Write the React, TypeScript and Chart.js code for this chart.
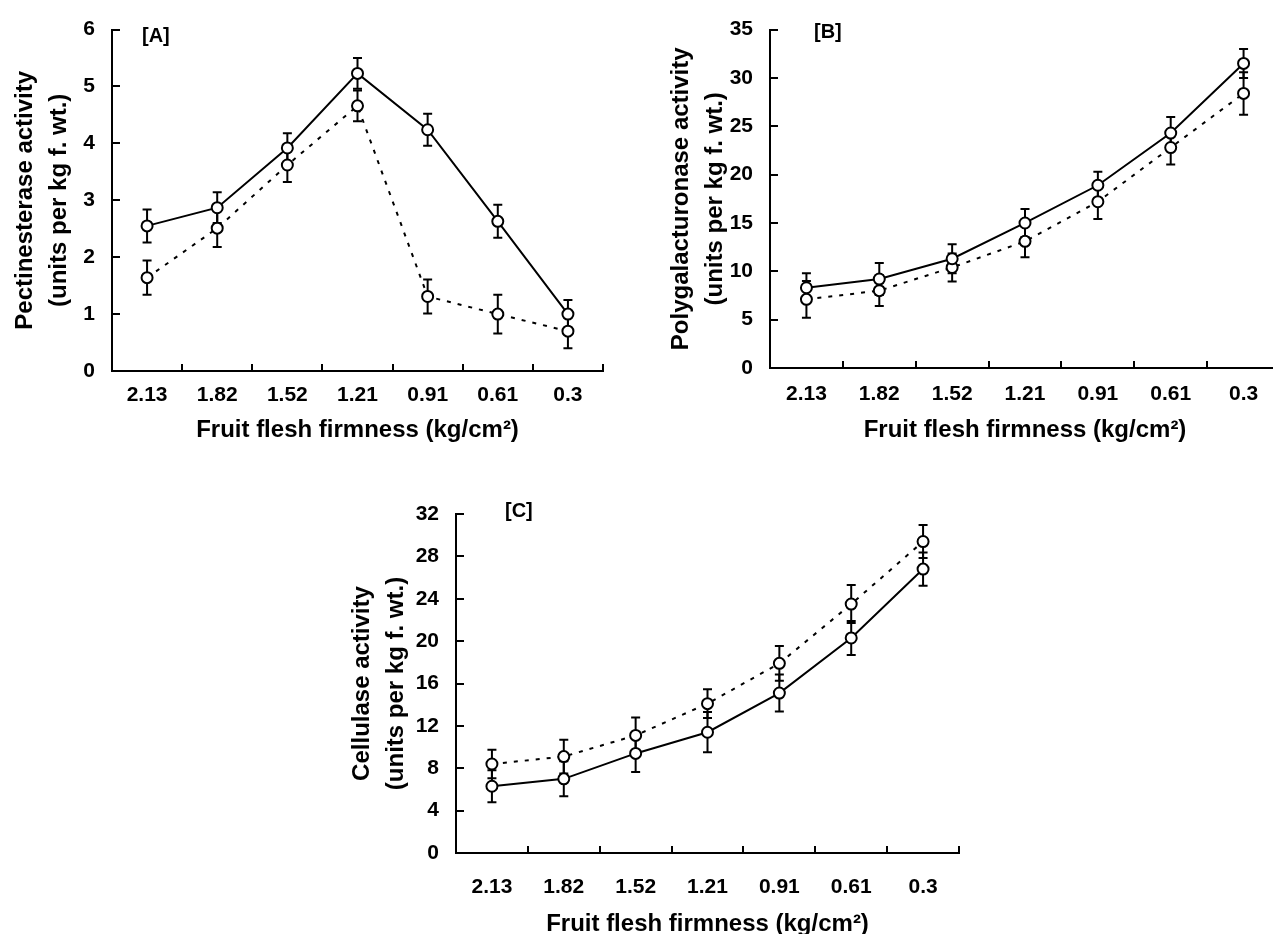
import React, { useEffect, useRef } from 'react';
import { Chart, registerables } from 'chart.js';

Chart.register(...registerables);

const categories = ['2.13', '1.82', '1.52', '1.21', '0.91', '0.61', '0.3'];

// Panel A – Pectinesterase
const peSolid = [2.55, 2.87, 3.92, 5.23, 4.24, 2.63, 1.0];
const peSolidErr = [0.29, 0.27, 0.26, 0.27, 0.28, 0.29, 0.25];
const peDashed = [1.64, 2.51, 3.62, 4.66, 1.31, 1.0, 0.7];
const peDashedErr = [0.3, 0.33, 0.3, 0.27, 0.3, 0.34, 0.3];

// Panel B – Polygalacturonase
const pgSolid = [8.3, 9.2, 11.3, 15.0, 18.9, 24.3, 31.5];
const pgSolidErr = [1.5, 1.65, 1.5, 1.45, 1.4, 1.65, 1.5];
const pgDashed = [7.1, 8.0, 10.4, 13.1, 17.2, 22.8, 28.4];
const pgDashedErr = [1.9, 1.6, 1.45, 1.65, 1.8, 1.75, 2.2];

// Panel C – Cellulase
const ceSolid = [6.3, 7.0, 9.4, 11.4, 15.1, 20.3, 26.8];
const ceSolidErr = [1.5, 1.65, 1.75, 1.9, 1.75, 1.6, 1.57];
const ceDashed = [8.4, 9.1, 11.1, 14.1, 17.9, 23.5, 29.4];
const ceDashedErr = [1.35, 1.6, 1.7, 1.35, 1.65, 1.8, 1.55];

const xTitle = 'Fruit flesh firmness (kg/cm²)';
const yTitleA = ['Pectinesterase activity', '(units per kg f. wt.)'];
const yTitleB = ['Polygalacturonase activity', '(units per kg f. wt.)'];
const yTitleC = ['Cellulase activity', '(units per kg f. wt.)'];

const FONT = '"Liberation Sans", Arial, Helvetica, sans-serif';

type Series = { data: number[]; err: number[]; dashed: boolean };
type Panel = {
  label: string;
  canvas: { left: number; top: number; width: number; height: number };
  area: { left: number; top: number; right: number; bottom: number };
  yMax: number;
  yStep: number;
  yTitle: string[];
  yTitlePad: number;
  xTickPad: number;
  xTitlePad: number;
  labelDx: number;
  labelDy: number;
  series: Series[];
};

const panels: Panel[] = [
  {
    label: '[A]',
    canvas: { left: 0, top: 0, width: 640, height: 460 },
    area: { left: 112, top: 25, right: 603, bottom: 371 },
    yMax: 6, yStep: 1, yTitle: yTitleA, yTitlePad: 8,
    xTickPad: 12, xTitlePad: 15.6, labelDx: 30, labelDy: 7,
    series: [
      { data: peSolid, err: peSolidErr, dashed: false },
      { data: peDashed, err: peDashedErr, dashed: true },
    ],
  },
  {
    label: '[B]',
    canvas: { left: 640, top: 0, width: 660, height: 460 },
    area: { left: 770, top: 24, right: 1280, bottom: 368 },
    yMax: 35, yStep: 5, yTitle: yTitleB, yTitlePad: 24,
    xTickPad: 14, xTitlePad: 15.6, labelDx: 44, labelDy: 3,
    series: [
      { data: pgSolid, err: pgSolidErr, dashed: false },
      { data: pgDashed, err: pgDashedErr, dashed: true },
    ],
  },
  {
    label: '[C]',
    canvas: { left: 300, top: 460, width: 700, height: 500 },
    area: { left: 456, top: 514, right: 959, bottom: 853 },
    yMax: 32, yStep: 4, yTitle: yTitleC, yTitlePad: 45,
    xTickPad: 22, xTitlePad: 21.6, labelDx: 49, labelDy: -3,
    series: [
      { data: ceSolid, err: ceSolidErr, dashed: false },
      { data: ceDashed, err: ceDashedErr, dashed: true },
    ],
  },
];

const errorBarsPlugin = {
  id: 'errorBars',
  beforeDatasetsDraw(chart: any) {
    const ctx = chart.ctx;
    const ys = chart.scales.y;
    ctx.save();
    ctx.strokeStyle = '#000';
    ctx.lineWidth = 2;
    ctx.setLineDash([]);
    chart.data.datasets.forEach((ds: any, di: number) => {
      const meta = chart.getDatasetMeta(di);
      meta.data.forEach((pt: any, i: number) => {
        const v = ds.data[i];
        const e = ds.err[i];
        const top = ys.getPixelForValue(v + e);
        const bot = ys.getPixelForValue(v - e);
        ctx.beginPath();
        ctx.moveTo(pt.x, top);
        ctx.lineTo(pt.x, bot);
        ctx.moveTo(pt.x - 4.5, top);
        ctx.lineTo(pt.x + 4.5, top);
        ctx.moveTo(pt.x - 4.5, bot);
        ctx.lineTo(pt.x + 4.5, bot);
        ctx.stroke();
      });
    });
    ctx.restore();
  },
};

const axisTicksPlugin = {
  id: 'axisTicks',
  afterDraw(chart: any) {
    const ctx = chart.ctx;
    const xs = chart.scales.x;
    const ys = chart.scales.y;
    const area = chart.chartArea;
    ctx.save();
    ctx.strokeStyle = '#000';
    ctx.lineWidth = 2;
    ctx.beginPath();
    ys.ticks.forEach((t: any) => {
      const y = Math.round(ys.getPixelForValue(t.value));
      ctx.moveTo(area.left, y);
      ctx.lineTo(area.left + 8, y);
    });
    const n = xs.ticks.length;
    const w = (area.right - area.left) / n;
    for (let k = 1; k <= n; k++) {
      const x = Math.round(area.left + k * w);
      ctx.moveTo(x, area.bottom);
      ctx.lineTo(x, area.bottom - 7);
    }
    ctx.stroke();
    ctx.restore();
  },
};

const panelLabelPlugin = {
  id: 'panelLabel',
  afterDraw(chart: any, _args: any, opts: any) {
    const ctx = chart.ctx;
    const area = chart.chartArea;
    ctx.save();
    ctx.fillStyle = '#000';
    ctx.font = `bold 20px ${FONT}`;
    ctx.textBaseline = 'middle';
    ctx.textAlign = 'left';
    ctx.fillText(opts.text, area.left + opts.dx, area.top + opts.dy);
    ctx.restore();
  },
};

function PanelChart({ p }: { p: Panel }) {
  const ref = useRef<HTMLCanvasElement | null>(null);
  useEffect(() => {
    if (!ref.current) return;
    const xScaleHeight = p.canvas.top + p.canvas.height - p.area.bottom;
    const yScaleWidth = p.area.left - p.canvas.left;
    const chart = new Chart(ref.current, {
      type: 'line',
      data: {
        labels: categories,
        datasets: p.series.map((s) => ({
          data: s.data,
          err: s.err,
          borderColor: '#000',
          borderWidth: 2,
          borderDash: s.dashed ? [4, 7] : [],
          pointRadius: 5.5,
          pointBorderWidth: 2,
          pointBackgroundColor: '#fff',
          pointBorderColor: '#000',
          fill: false,
          tension: 0,
        })) as any,
      },
      options: {
        animation: false,
        responsive: false,
        maintainAspectRatio: false,
        layout: {
          padding: {
            left: 0,
            top: p.area.top - p.canvas.top,
            right: p.canvas.left + p.canvas.width - p.area.right,
            bottom: 0,
          },
        },
        plugins: {
          legend: { display: false },
          tooltip: { enabled: false },
          panelLabel: { text: p.label, dx: p.labelDx, dy: p.labelDy },
        } as any,
        scales: {
          x: {
            type: 'category',
            offset: true,
            grid: { display: true, offset: true, drawOnChartArea: false, drawTicks: false, color: 'rgba(0,0,0,0)' },
            border: { display: true, color: '#000', width: 2 },
            ticks: {
              color: '#000',
              font: { family: FONT, size: 21, weight: 'bold' },
              padding: p.xTickPad,
              maxRotation: 0,
              autoSkip: false,
            },
            title: {
              display: true,
              text: xTitle,
              color: '#000',
              font: { family: FONT, size: 24, weight: 'bold' },
              padding: { top: 0, bottom: p.xTitlePad },
            },
            afterFit: (s: any) => {
              s.height = xScaleHeight;
            },
          },
          y: {
            min: 0,
            max: p.yMax,
            grid: { display: true, drawOnChartArea: false, drawTicks: false, color: 'rgba(0,0,0,0)' },
            border: { display: true, color: '#000', width: 2 },
            ticks: {
              stepSize: p.yStep,
              color: '#000',
              font: { family: FONT, size: 21, weight: 'bold' },
              padding: 17,
            },
            title: {
              display: true,
              text: p.yTitle,
              color: '#000',
              font: { family: FONT, size: 24, weight: 'bold', lineHeight: '34px' },
              padding: { top: p.yTitlePad, bottom: 0 },
            },
            afterFit: (s: any) => {
              s.width = yScaleWidth;
            },
          },
        },
      } as any,
      plugins: [errorBarsPlugin, axisTicksPlugin, panelLabelPlugin],
    });
    return () => chart.destroy();
  }, [p]);
  return (
    <canvas
      ref={ref}
      width={p.canvas.width}
      height={p.canvas.height}
      style={{
        position: 'absolute',
        left: p.canvas.left,
        top: p.canvas.top,
        width: p.canvas.width,
        height: p.canvas.height,
        display: 'block',
      }}
    />
  );
}

export default function App() {
  return (
    <div
      style={{
        position: 'absolute',
        left: 0,
        top: 0,
        width: 1273,
        height: 934,
        overflow: 'hidden',
        background: '#fff',
      }}
    >
      {panels.map((p) => (
        <PanelChart key={p.label} p={p} />
      ))}
    </div>
  );
}
